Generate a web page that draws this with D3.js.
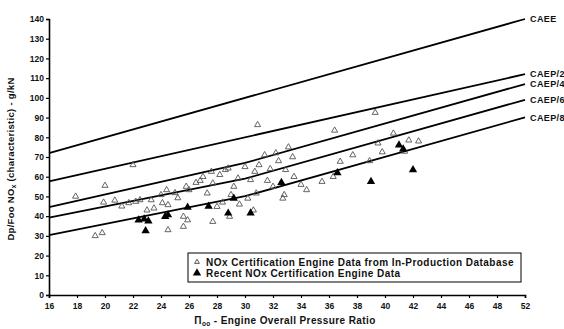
<!DOCTYPE html>
<html>
<head>
<meta charset="utf-8">
<script src="https://cdn.jsdelivr.net/npm/d3@7"></script>
<style>
  body { margin: 0; background: #fff; }
  svg { display: block; overflow: hidden; }
  text { font-family: "Liberation Sans", Arial, sans-serif; font-weight: bold; fill: #111; }
</style>
</head>
<body>
<div id="chart"></div>
<script>
// standard lines, [pressure ratio, Dp/Foo]
let caee = [[16, 72], [50, 140]];
let caep2 = [[16, 57.6], [50, 112]];
let caep4 = [[16, 44.6], [30, 67], [50, 107]];
let caep6 = [[16, 39.2], [30, 59], [50, 99]];
let caep8 = [[16, 30.4], [30, 50.1], [50, 90.1]];
let lineNames = ["CAEE", "CAEP/2", "CAEP/4", "CAEP/6", "CAEP/8"];

// in-production database points (open triangles)
let prodData = [
  [17.9, 50], [19.3, 30], [19.8, 31.5], [20.0, 55.5], [19.9, 47], [20.7, 48],
  [21.2, 45], [21.7, 46.7], [22.0, 66], [22.2, 47.4], [22.5, 48.2], [23.0, 43],
  [23.3, 48.2], [23.5, 44], [24.0, 50.8], [24.1, 46.7], [24.4, 53.3], [24.5, 45.7],
  [24.5, 33], [25.0, 51.8], [25.2, 49.2], [25.6, 39.8], [25.6, 34.7], [25.8, 55],
  [25.9, 38], [26.0, 53.3], [26.5, 57], [26.8, 58], [27.0, 60], [27.3, 51.6],
  [27.6, 62.6], [27.7, 56.7], [27.7, 37.2], [28.0, 44.8], [28.2, 61], [28.4, 47],
  [28.6, 63.5], [28.8, 64.3], [28.9, 39.8], [29.0, 50.8], [29.2, 55], [29.5, 59.2],
  [29.6, 46], [30.0, 65], [30.2, 49], [30.4, 58.4], [30.6, 43], [30.7, 62.6],
  [30.8, 51.6], [30.9, 86.3], [31.0, 66], [31.4, 71], [31.6, 58], [31.8, 64],
  [32.0, 55], [32.2, 72], [32.4, 68], [32.7, 49], [32.8, 50.8], [32.9, 63.5],
  [33.1, 75], [33.4, 70], [33.5, 60], [34.0, 56], [34.4, 53.3], [35.5, 57.5],
  [36.3, 60], [36.4, 83.5], [36.8, 67.7], [37.7, 71], [38.9, 68], [39.3, 92.5],
  [39.5, 77], [39.8, 72.5], [40.6, 82], [41.4, 72.8], [41.7, 78.5], [42.4, 78]
];

// recent certification points (filled triangles)
let recentData = [
  [22.4, 38], [22.8, 38.5], [23.1, 37.5], [22.9, 32.6], [24.3, 39.8], [24.5, 40.6],
  [25.9, 44.5], [27.4, 45], [28.8, 41.5], [29.2, 49], [30.4, 41.6], [32.6, 57],
  [36.6, 62], [39.0, 57.5], [41.0, 76], [41.3, 74], [42.0, 63.5]
];

let xTicks = [16, 18, 20, 22, 24, 26, 28, 30, 32, 34, 36, 38, 40, 42, 44, 46, 48, 50];
let xTickLabels = ["16", "18", "20", "22", "24", "26", "28", "30", "32", "34", "36", "38", "40", "42", "44", "46", "48", "52"];
let yTicks = [0, 10, 20, 30, 40, 50, 60, 70, 80, 90, 100, 110, 120, 130, 140];
let legendLabels = ["NOx Certification Engine Data from In-Production Database", "Recent NOx Certification Engine Data"];

let width = 564, height = 329;
let plotLeft = 49, plotTop = 19, plotRight = 525, plotBottom = 295;

let svg = d3.select("#chart").append("svg")
  .attr("width", width)
  .attr("height", height);

let x = d3.scaleLinear().domain([16, 50]).range([plotLeft, plotRight]);
let y = d3.scaleLinear().domain([0, 140]).range([plotBottom, plotTop]);

// axes
let xAxis = d3.axisBottom(x).tickValues(xTicks).tickSize(3)
  .tickFormat((d, i) => xTickLabels[i]);
let yAxis = d3.axisLeft(y).tickValues(yTicks).tickSize(3);

let gx = svg.append("g").attr("transform", "translate(0," + plotBottom + ")").call(xAxis);
let gy = svg.append("g").attr("transform", "translate(" + plotLeft + ",0)").call(yAxis);

[gx, gy].forEach(g => {
  g.select(".domain").attr("stroke", "#000").attr("stroke-width", 1.6);
  g.selectAll(".tick line").attr("stroke", "#000").attr("stroke-width", 1.2);
  g.selectAll(".tick text").style("font-size", "8.5px").attr("fill", "#111");
});
gx.selectAll(".tick text").attr("dy", "0.9em");
gy.selectAll(".tick text").attr("x", -5);

// standard lines
let line = d3.line().x(d => x(d[0])).y(d => y(d[1]));
let lines = [caee, caep2, caep4, caep6, caep8];
lines.forEach((pts, i) => {
  svg.append("path")
    .datum(pts)
    .attr("d", line)
    .attr("fill", "none")
    .attr("stroke", "#000")
    .attr("stroke-width", 1.8);

  let end = pts[pts.length - 1];
  svg.append("text")
    .attr("x", x(end[0]) + 5)
    .attr("y", y(end[1]))
    .attr("dy", "0.35em")
    .style("font-size", "9px")
    .style("letter-spacing", "0.4px")
    .text(lineNames[i]);
});

// points
let openTri = d3.symbol().type(d3.symbolTriangle).size(16);
let fillTri = d3.symbol().type(d3.symbolTriangle).size(30);

svg.selectAll(".prod")
  .data(prodData)
  .enter()
  .append("path")
  .attr("class", "prod")
  .attr("d", openTri)
  .attr("transform", d => "translate(" + x(d[0]) + "," + y(d[1]) + ")")
  .attr("fill", "none")
  .attr("stroke", "#555")
  .attr("stroke-width", 0.9);

svg.selectAll(".recent")
  .data(recentData)
  .enter()
  .append("path")
  .attr("class", "recent")
  .attr("d", fillTri)
  .attr("transform", d => "translate(" + x(d[0]) + "," + y(d[1]) + ")")
  .attr("fill", "#000");

// legend
let legend = svg.append("g").attr("transform", "translate(188,253)");
legend.append("rect")
  .attr("width", 333)
  .attr("height", 29)
  .attr("fill", "#fff")
  .attr("stroke", "#000")
  .attr("stroke-width", 1);
legend.append("path")
  .attr("d", d3.symbol().type(d3.symbolTriangle).size(10))
  .attr("transform", "translate(9,9)")
  .attr("fill", "none")
  .attr("stroke", "#555");
legend.append("path")
  .attr("d", d3.symbol().type(d3.symbolTriangle).size(30))
  .attr("transform", "translate(9,20)")
  .attr("fill", "#000");
legendLabels.forEach((t, i) => {
  legend.append("text")
    .attr("x", 18)
    .attr("y", 9 + i * 11)
    .attr("dy", "0.35em")
    .style("font-size", "10px")
    .style("letter-spacing", "0.45px")
    .text(t);
});

// axis titles
let xt = svg.append("text")
  .attr("x", 285)
  .attr("y", 324)
  .attr("text-anchor", "middle")
  .style("font-size", "10px")
  .style("letter-spacing", "0.4px");
xt.append("tspan").text("Π");
xt.append("tspan").attr("dy", 2).style("font-size", "6.5px").text("oo");
xt.append("tspan").attr("dy", -2).text(" - Engine Overall Pressure Ratio");

let yt = svg.append("text")
  .attr("transform", "translate(14,159) rotate(-90)")
  .attr("text-anchor", "middle")
  .style("font-size", "9.5px")
  .style("letter-spacing", "0.3px");
yt.append("tspan").text("Dp/Foo NO");
yt.append("tspan").attr("dy", 2).style("font-size", "6.5px").text("x");
yt.append("tspan").attr("dy", -2).text(" (characteristic) - g/kN");
</script>
</body>
</html>
